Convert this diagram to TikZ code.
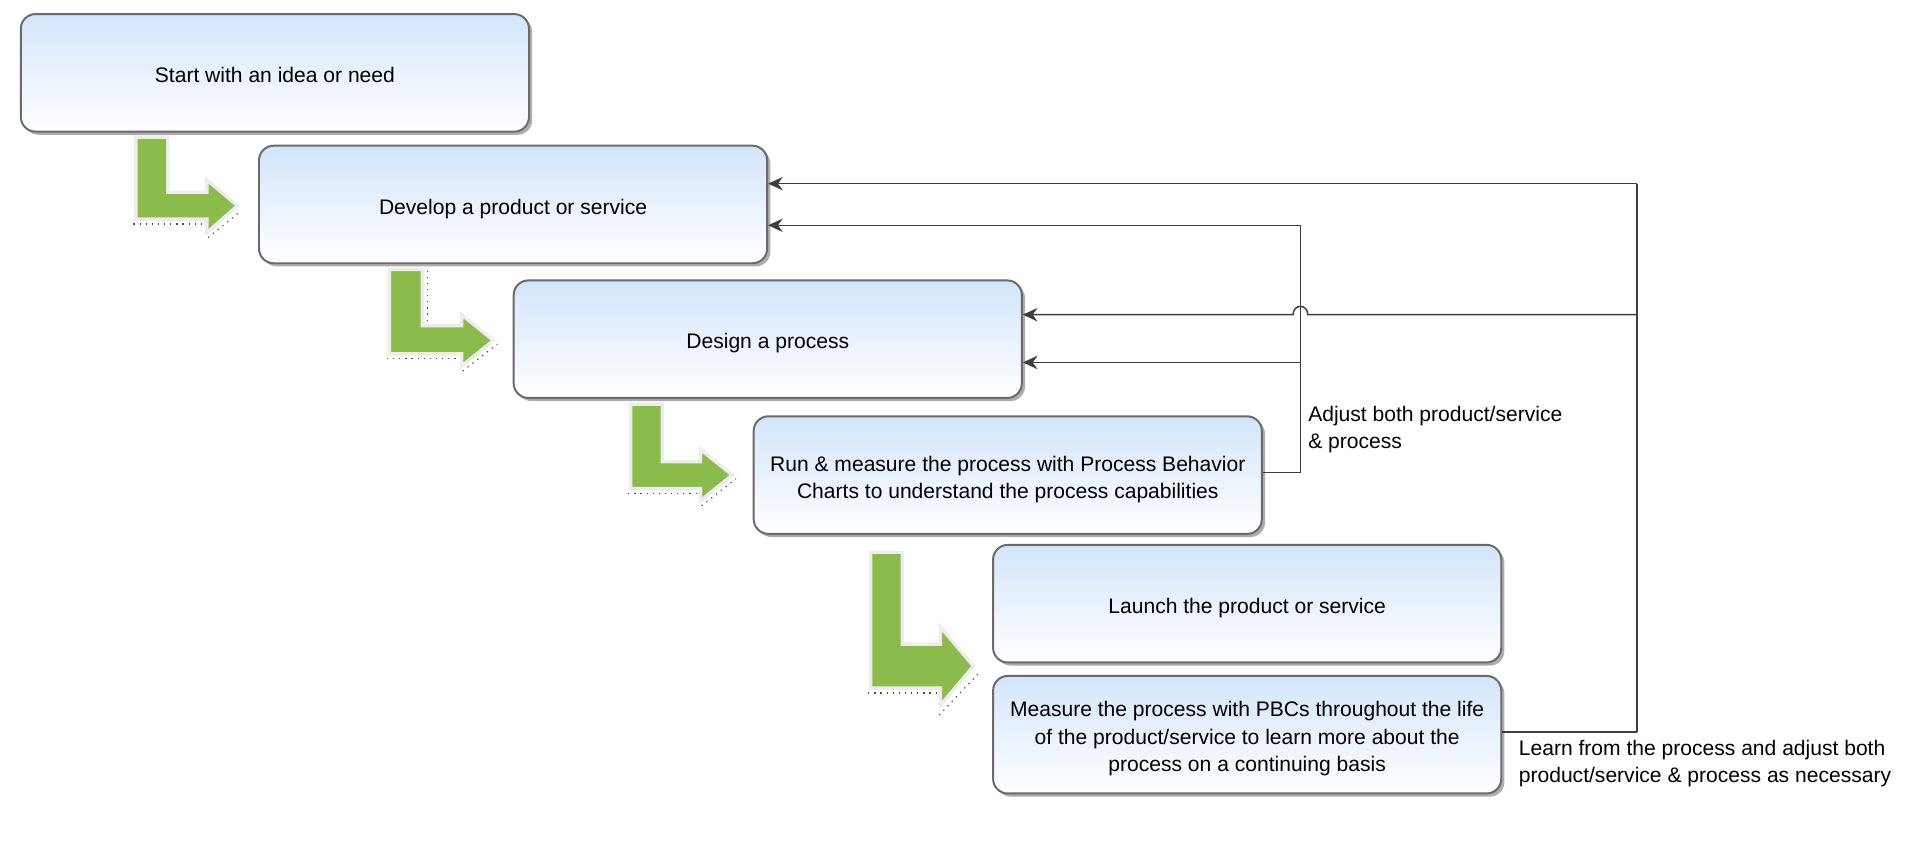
\documentclass[tikz,border=0pt]{standalone}
\usepackage{fontspec}
\setmainfont{Liberation Sans}
\usetikzlibrary{arrows.meta,shadows}
\definecolor{boxtop}{HTML}{D3E5FB}
\definecolor{boxline}{HTML}{6A6A6A}
\definecolor{greenarr}{HTML}{8BBB4A}
\definecolor{conn}{HTML}{3E3E3E}
\newcommand{\boxtext}[1]{\raisebox{0pt}[\dimexpr\height+3.4pt\relax][\depth]{\begin{tabular}{@{}c@{}}#1\end{tabular}}}
\tikzset{
  stepbox/.style={draw=boxline, line width=0.8pt, rounded corners=6pt,
    top color=boxtop, bottom color=white, minimum width=207.5pt, minimum height=48pt,
    inner sep=2pt, font=\fontsize{8.6}{11.2}\selectfont,
    drop shadow={shadow xshift=1.3pt, shadow yshift=-1.3pt, fill=black!40, opacity=0.8}},
  greenbent/.style={fill=greenarr, draw=black!7, line width=1.4pt, line join=miter},
  shadowdots/.style={draw=black!70, line width=0.5pt, dotted},
  feedback/.style={draw=conn, line width=0.6pt, -{Stealth[length=6pt,width=5.5pt,inset=2pt]}},
  plainline/.style={draw=conn, line width=0.6pt},
  note/.style={align=left, inner sep=0pt, font=\fontsize{8.6}{11.2}\selectfont, anchor=north west}
}
\begin{document}
\begin{tikzpicture}[x=0.5pt,y=-0.5pt]
\path[use as bounding box] (0,0) rectangle (1568,688);

% green bent arrows
\path[greenbent] (111,112)--(137,112)--(137,157)--(169,157)--(169,147)--(194,168)--(169,190)--(169,179)--(111,179)--cycle;
\draw[shadowdots] (109,183)--(167,183);
\draw[shadowdots] (170,194)--(197,172);

\path[greenbent] (318,220)--(345,220)--(345,266)--(377,266)--(377,257)--(403,278)--(377,299)--(377,289)--(318,289)--cycle;
\draw[shadowdots] (349,221)--(349,264);
\draw[shadowdots] (316,293)--(375,293);
\draw[shadowdots] (378,303)--(406,281);

\path[greenbent] (515,330)--(541,330)--(541,377)--(572,377)--(572,367)--(598,388)--(572,409)--(572,399)--(515,399)--cycle;
\draw[shadowdots] (513,403)--(570,403);
\draw[shadowdots] (573,413)--(601,391);

\path[greenbent] (711,451)--(737,451)--(737,526)--(768,526)--(768,512)--(795,544)--(768,576)--(768,562)--(711,562)--cycle;
\draw[shadowdots] (709,566)--(766,566);
\draw[shadowdots] (767,584)--(799,550);

% boxes
\node[stepbox] (b1) at (224.5,59.5) {\boxtext{Start with an idea or need}};
\node[stepbox] (b2) at (419,167) {\boxtext{Develop a product or service}};
\node[stepbox] (b3) at (627,277) {\boxtext{Design a process}};
\node[stepbox] (b4) at (823,388) {\boxtext{Run \& measure the process with Process Behavior\\Charts to understand the process capabilities}};
\node[stepbox] (b5) at (1018.5,493) {\boxtext{Launch the product or service}};
\node[stepbox] (b6) at (1018.5,600) {\boxtext{Measure the process with PBCs throughout the life\\of the product/service to learn more about the\\process on a continuing basis}};

% inner feedback loop
\coordinate (a0) at (1062,386);
\coordinate (a1) at (1062,184);
\coordinate (a2) at (1062,296);
\draw[plainline] (b4.east |- a0) -- (a0) -- (a1);
\draw[feedback] (a1) -- (b2.east |- a1);
\draw[feedback] (a2) -- (b3.east |- a2);

% outer feedback loop
\coordinate (c0) at (1337,598);
\coordinate (c1) at (1337,150);
\coordinate (c2) at (1337,257);
\coordinate (h1) at (1068,257);
\coordinate (h2) at (1056,257);
\draw[draw=conn, line width=1pt] (b6.east |- c0) -- (c0);
\draw[plainline] (c0) -- (c1);
\draw[feedback] (c1) -- (b2.east |- c1);
\draw[feedback] (c2) -- (h1) .. controls (1068,248) and (1056,248) .. (h2) -- (b3.east |- c2);

% labels
\node[note] (l1) at (1068,331) {Adjust both product/service\\\& process};
\node[note] (l2) at (1240,604) {Learn from the process and adjust both\\product/service \& process as necessary};
\end{tikzpicture}
\end{document}
